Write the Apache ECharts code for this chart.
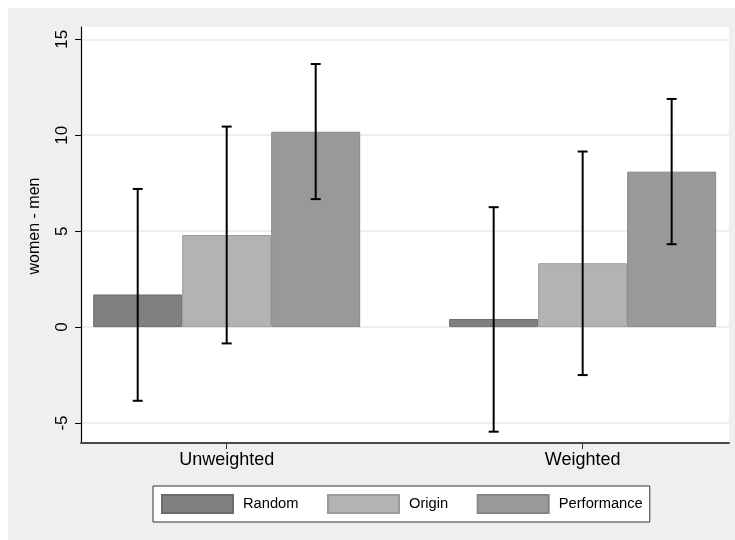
<!DOCTYPE html>
<html>
<head>
<meta charset="utf-8">
<script src="https://cdn.jsdelivr.net/npm/echarts@6/dist/echarts.min.js"></script>
<style>
  html, body { margin: 0; padding: 0; background: #ffffff; }
  #wrap { position: relative; width: 735px; height: 540px; background: #ffffff; overflow: hidden; }
  #bg { position: absolute; left: 8px; top: 8px; right: 0; bottom: 0; background: #efefef; }
  #chart { position: absolute; left: 0; top: 0; width: 735px; height: 540px; }
</style>
</head>
<body>
<div id="wrap"><div id="bg"></div><div id="chart"></div></div>
<script>
// ---- data ----
const categories = ['Unweighted', 'Weighted'];
const seriesNames = ['Random', 'Origin', 'Performance'];
const randomMean = [1.70, 0.42];
const originMean = [4.80, 3.33];
const performanceMean = [10.18, 8.10];
const randomLow = [-3.84, -5.45];
const randomHigh = [7.20, 6.25];
const originLow = [-0.85, -2.50];
const originHigh = [10.45, 9.15];
const performanceLow = [6.67, 4.32];
const performanceHigh = [13.71, 11.89];
const yTicks = [-5, 0, 5, 10, 15];

const means = [randomMean, originMean, performanceMean];
const lows = [randomLow, originLow, performanceLow];
const highs = [randomHigh, originHigh, performanceHigh];
const fills = ['#808080', '#b3b3b3', '#999999'];
const borders = ['#6c6c6c', '#9c9c9c', '#868686'];
const slot = 0.25; // bar width in x-axis units (3 bars per group)

const font = '"Liberation Sans", Arial, Helvetica, sans-serif';

const barSeries = seriesNames.map((name, i) => ({
  name: name,
  type: 'bar',
  data: means[i].map((v, k) => [k, v]),
  barWidth: 89,
  barGap: '0%',
  itemStyle: { color: fills[i], borderColor: borders[i], borderWidth: 1 },
  emphasis: { disabled: true },
  z: 2
}));

const errSeries = seriesNames.map((name, i) => ({
  name: name + ' CI',
  type: 'custom',
  data: lows[i].map((lo, k) => [k, lo, highs[i][k]]),
  encode: { x: 0, y: [1, 2] },
  z: 5,
  renderItem: function (params, api) {
    const x = api.value(0) + (i - 1) * slot;
    const pLo = api.coord([x, api.value(1)]);
    const pHi = api.coord([x, api.value(2)]);
    const cap = 5;
    const st = { stroke: '#000000', lineWidth: 2 };
    return {
      type: 'group',
      children: [
        { type: 'line', shape: { x1: pLo[0], y1: pLo[1], x2: pHi[0], y2: pHi[1] }, style: st },
        { type: 'line', shape: { x1: pLo[0] - cap, y1: pLo[1], x2: pLo[0] + cap, y2: pLo[1] }, style: st },
        { type: 'line', shape: { x1: pHi[0] - cap, y1: pHi[1], x2: pHi[0] + cap, y2: pHi[1] }, style: st }
      ]
    };
  }
}));

const chart = echarts.init(document.getElementById('chart'), null, { renderer: 'canvas' });
chart.setOption({
  backgroundColor: 'transparent',
  animation: false,
  textStyle: { fontFamily: font },
  grid: {
    left: 81, top: 27, width: 648, height: 416,
    show: true, backgroundColor: '#ffffff', borderWidth: 0
  },
  legend: {
    data: seriesNames,
    left: 153, top: 486,
    orient: 'horizontal',
    itemWidth: 71, itemHeight: 18, itemGap: 28.5,
    padding: [8, 7, 8, 8],
    backgroundColor: '#ffffff', borderColor: '#333333', borderWidth: 1, borderRadius: 0,
    icon: 'rect',
    selectedMode: false,
    textStyle: { fontFamily: font, fontSize: 14.7, color: '#000000', padding: [0, 0, 0, 5] }
  },
  xAxis: {
    type: 'value',
    min: -0.4093, max: 1.4111,
    axisLine: { show: true, onZero: false, lineStyle: { color: '#4a4a4a', width: 2 } },
    axisTick: { show: true, customValues: [0, 1], length: 6, lineStyle: { color: '#333333', width: 1 } },
    axisLabel: {
      customValues: [0, 1],
      formatter: v => categories[Math.round(v)],
      fontSize: 18, color: '#000000', margin: 8, fontFamily: font
    },
    splitLine: { show: false }
  },
  yAxis: {
    type: 'value',
    min: -6.04, max: 15.64,
    name: 'women - men',
    nameLocation: 'middle',
    nameGap: 38,
    nameRotate: 90,
    nameTextStyle: { fontSize: 16, color: '#000000', fontFamily: font, padding: [0, 0, 0, 18] },
    axisLine: { show: true, onZero: false, lineStyle: { color: '#000000', width: 1.2 } },
    axisTick: { show: true, customValues: yTicks, length: 6, lineStyle: { color: '#000000', width: 1 } },
    axisLabel: { customValues: yTicks, rotate: 90, fontSize: 17, color: '#000000', margin: 10, fontFamily: font },
    splitLine: { show: true, lineStyle: { color: '#e8e8e8', width: 1.5 } }
  },
  series: barSeries.concat(errSeries)
});
</script>
</body>
</html>
